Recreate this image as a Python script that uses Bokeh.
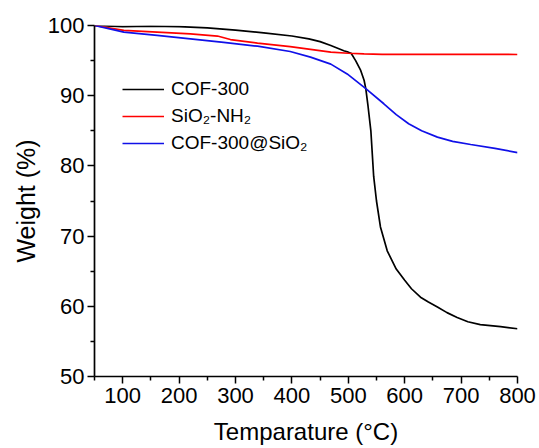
from bokeh.plotting import figure
from bokeh.models import Range1d, FixedTicker, Legend, LegendItem
from bokeh.embed import file_html
from bokeh.resources import INLINE

# ---- data ----
temp_cof = [50, 100, 150, 200, 250, 300, 350, 400, 430, 450, 469, 480, 492, 500, 505, 513, 522, 528, 531,
            535, 540, 545, 550, 557, 569, 585, 600, 612, 628, 642, 658, 675, 693, 712, 734, 770, 800]
weight_cof = [100.0, 99.85, 99.9, 99.85, 99.65, 99.35, 98.95, 98.5, 98.1, 97.7, 97.15, 96.8, 96.4, 96.2,
              96.05, 95.0, 93.6, 92.2, 91.0, 88.5, 85.0, 78.5, 75.0, 71.3, 67.9, 65.3, 63.7, 62.5, 61.3,
              60.6, 59.9, 59.1, 58.4, 57.8, 57.4, 57.1, 56.8]

temp_si = [50, 102, 161, 220, 268, 291, 339, 397, 433, 469, 500, 528, 560, 600, 700, 800]
weight_si = [100.0, 99.3, 99.05, 98.8, 98.5, 98.0, 97.5, 97.0, 96.6, 96.2, 96.05, 95.97, 95.9, 95.9,
             95.9, 95.87]

temp_cs = [50, 102, 161, 220, 279, 339, 397, 433, 469, 498, 531, 563, 585, 607, 630, 658, 685, 717, 760, 800]
weight_cs = [100.0, 99.05, 98.6, 98.1, 97.6, 97.05, 96.3, 95.5, 94.5, 93.1, 91.0, 88.85, 87.3, 86.0,
             85.0, 84.1, 83.5, 83.05, 82.5, 81.9]

series_labels = ["COF-300", "SiO\u2082-NH\u2082", "COF-300@SiO\u2082"]
series_colors = ["black", "red", "#1010e8"]

x_major = [100, 200, 300, 400, 500, 600, 700, 800]
x_minor = [50, 150, 250, 350, 450, 550, 650, 750]
y_major = [50, 60, 70, 80, 90, 100]
y_minor = [55, 65, 75, 85, 95]

FONT = "Liberation Sans"

p = figure(width=539, height=448, output_backend="svg", toolbar_location=None,
           x_range=Range1d(50, 800), y_range=Range1d(50, 100),
           min_border_left=94, min_border_right=22, min_border_top=25, min_border_bottom=72)
p.outline_line_color = None
p.xgrid.visible = False
p.ygrid.visible = False
p.background_fill_color = "white"

r1 = p.line(temp_cof, weight_cof, line_color=series_colors[0], line_width=1.7)
r2 = p.line(temp_si, weight_si, line_color=series_colors[1], line_width=1.7)
r3 = p.line(temp_cs, weight_cs, line_color=series_colors[2], line_width=1.7)

p.xaxis.ticker = FixedTicker(ticks=x_major, minor_ticks=x_minor)
p.yaxis.ticker = FixedTicker(ticks=y_major, minor_ticks=y_minor)

p.xaxis.axis_label = "Temparature (\u00b0C)"
p.yaxis.axis_label = "Weight (%)"

for ax in (p.xaxis, p.yaxis):
    ax.axis_line_width = 1.7
    ax.axis_line_color = "black"
    ax.major_tick_line_width = 1.5
    ax.minor_tick_line_width = 1.5
    ax.major_tick_line_color = "black"
    ax.minor_tick_line_color = "black"
    ax.major_tick_in = 0
    ax.major_tick_out = 7
    ax.minor_tick_in = 0
    ax.minor_tick_out = 4
    ax.major_label_text_font = FONT
    ax.major_label_text_font_size = "22px"
    ax.major_label_text_color = "black"
    ax.axis_label_text_font = FONT
    ax.axis_label_text_font_style = "normal"
    ax.axis_label_text_color = "black"

p.xaxis.axis_label_text_font_size = "24px"
p.yaxis.axis_label_text_font_size = "25px"
p.xaxis.major_label_standoff = 4
p.yaxis.major_label_standoff = 3
p.xaxis.axis_label_standoff = 12
p.yaxis.axis_label_standoff = 5

legend = Legend(items=[LegendItem(label=series_labels[0], renderers=[r1]),
                       LegendItem(label=series_labels[1], renderers=[r2]),
                       LegendItem(label=series_labels[2], renderers=[r3])],
                location=(28, 222))
legend.border_line_color = None
legend.background_fill_alpha = 0
legend.glyph_width = 42
legend.glyph_height = 20
legend.label_height = 20
legend.label_standoff = 7
legend.spacing = 5
legend.padding = 0
legend.margin = 0
legend.label_text_font = FONT
legend.label_text_font_size = "19px"
legend.label_text_color = "black"
p.add_layout(legend)

open("out.html", "w").write(file_html(p, INLINE))
